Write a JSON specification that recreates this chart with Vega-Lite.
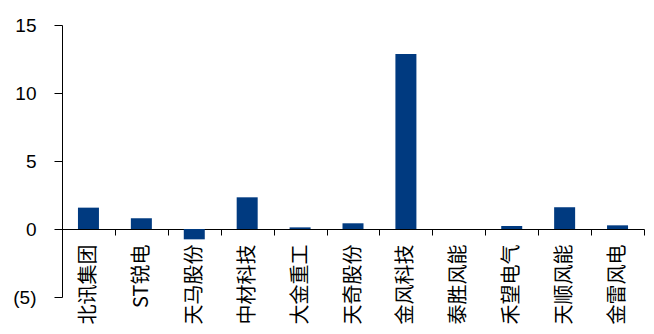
{
  "$schema": "https://vega.github.io/schema/vega-lite/v6.json",
  "autosize": "none",
  "width": 582,
  "height": 272,
  "padding": {"left": 62, "top": 25, "right": 10, "bottom": 37},
  "background": "white",
  "config": {"view": {"stroke": null}},
  "data": {
    "values": [
      {"name": "北讯集团", "value": 1.57},
      {"name": "ST锐电", "value": 0.79},
      {"name": "天马股份", "value": -0.76},
      {"name": "中材科技", "value": 2.33},
      {"name": "大金重工", "value": 0.12},
      {"name": "天奇股份", "value": 0.42},
      {"name": "金风科技", "value": 12.87},
      {"name": "泰胜风能", "value": 0.0},
      {"name": "禾望电气", "value": 0.22},
      {"name": "天顺风能", "value": 1.6},
      {"name": "金雷风电", "value": 0.27}
    ]
  },
  "mark": {"type": "bar", "width": 21, "color": "#003A80"},
  "encoding": {
    "x": {
      "field": "name",
      "type": "nominal",
      "sort": null,
      "scale": {"paddingInner": 0, "paddingOuter": 0},
      "axis": {
        "title": null,
        "offset": -68,
        "labelAngle": -90,
        "labelFont": "Noto Sans CJK SC",
        "labelFontSize": 20,
        "labelColor": "#000000",
        "labelPadding": 9,
        "tickBand": "extent",
        "tickSize": 6,
        "tickColor": "#000000",
        "domainColor": "#000000",
        "labelOverlap": false
      }
    },
    "y": {
      "field": "value",
      "type": "quantitative",
      "scale": {"domain": [-5, 15], "nice": false, "zero": false},
      "axis": {
        "title": null,
        "values": [-5, 0, 5, 10, 15],
        "labelExpr": "datum.value < 0 ? '(' + abs(datum.value) + ')' : datum.label",
        "grid": false,
        "labelFont": "Liberation Sans",
        "labelFontSize": 19,
        "labelColor": "#000000",
        "labelPadding": 18,
        "tickSize": 8,
        "tickColor": "#000000",
        "domainColor": "#000000"
      }
    }
  }
}
